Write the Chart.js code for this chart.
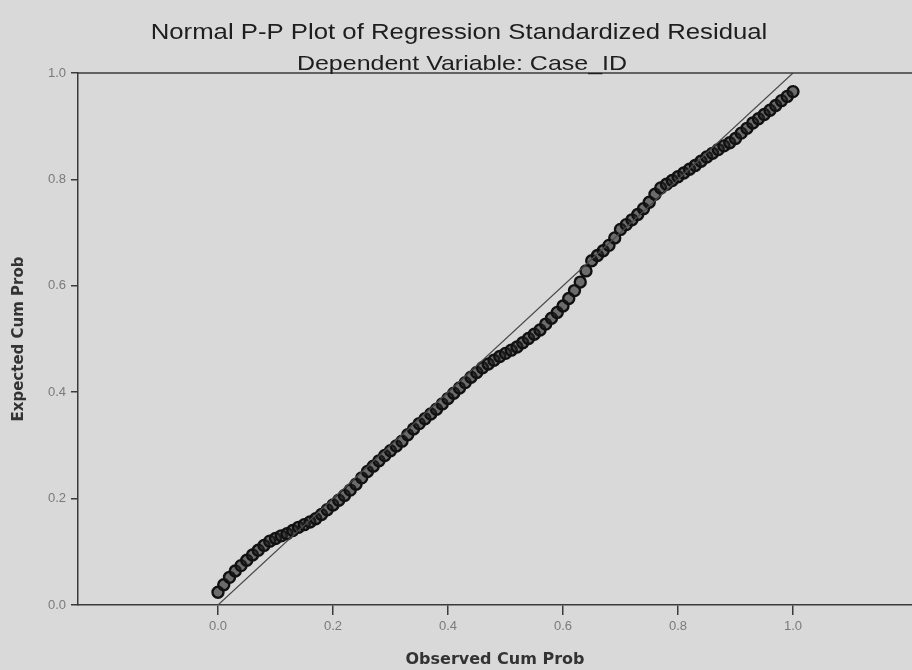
<!DOCTYPE html>
<html>
<head>
<meta charset="utf-8">
<script src="https://cdn.jsdelivr.net/npm/chart.js@4.4.1/dist/chart.umd.min.js"></script>
<style>
  html, body { margin: 0; padding: 0; background: #d9d9d9; }
  #pp { display: block; }
</style>
</head>
<body>
<canvas id="pp" width="912" height="670"></canvas>
<script>
// values (observed cum prob / expected cum prob)
var observed = [
    0.00, 0.01, 0.02, 0.03, 0.04, 0.05, 0.06, 0.07, 0.08, 0.09,
    0.10, 0.11, 0.12, 0.13, 0.14, 0.15, 0.16, 0.17, 0.18, 0.19,
    0.20, 0.21, 0.22, 0.23, 0.24, 0.25, 0.26, 0.27, 0.28, 0.29,
    0.30, 0.31, 0.32, 0.33, 0.34, 0.35, 0.36, 0.37, 0.38, 0.39,
    0.40, 0.41, 0.42, 0.43, 0.44, 0.45, 0.46, 0.47, 0.48, 0.49,
    0.50, 0.51, 0.52, 0.53, 0.54, 0.55, 0.56, 0.57, 0.58, 0.59,
    0.60, 0.61, 0.62, 0.63, 0.64, 0.65, 0.66, 0.67, 0.68, 0.69,
    0.70, 0.71, 0.72, 0.73, 0.74, 0.75, 0.76, 0.77, 0.78, 0.79,
    0.80, 0.81, 0.82, 0.83, 0.84, 0.85, 0.86, 0.87, 0.88, 0.89,
    0.90, 0.91, 0.92, 0.93, 0.94, 0.95, 0.96, 0.97, 0.98, 0.99,
    1.00
];
var expected = [
    0.024, 0.038, 0.052, 0.064, 0.074, 0.084, 0.094, 0.103, 0.112, 0.120,
    0.125, 0.130, 0.134, 0.140, 0.146, 0.151, 0.156, 0.162, 0.170, 0.179,
    0.188, 0.197, 0.206, 0.216, 0.227, 0.239, 0.251, 0.261, 0.271, 0.281,
    0.290, 0.299, 0.308, 0.320, 0.331, 0.341, 0.350, 0.359, 0.368, 0.378,
    0.388, 0.398, 0.408, 0.418, 0.428, 0.437, 0.446, 0.453, 0.460, 0.467,
    0.473, 0.479, 0.485, 0.493, 0.501, 0.509, 0.517, 0.528, 0.539, 0.550,
    0.562, 0.576, 0.591, 0.607, 0.628, 0.647, 0.657, 0.666, 0.676, 0.690,
    0.706, 0.715, 0.724, 0.734, 0.745, 0.757, 0.772, 0.784, 0.791, 0.798,
    0.805, 0.812, 0.819, 0.826, 0.834, 0.842, 0.849, 0.856, 0.863, 0.869,
    0.877, 0.887, 0.896, 0.906, 0.914, 0.922, 0.930, 0.939, 0.948, 0.956,
    0.965
];
var diagonal = [0, 1];
var xTicks = [0.0, 0.2, 0.4, 0.6, 0.8, 1.0];
var yTicks = [0.0, 0.2, 0.4, 0.6, 0.8, 1.0];

var titleText = 'Normal P-P Plot of Regression Standardized Residual';
var subtitleText = 'Dependent Variable: Case_ID';

var points = [];
for (var i = 0; i < observed.length; i++) {
    points.push({ x: observed[i], y: expected[i] });
}
var refLine = [];
for (var j = 0; j < diagonal.length; j++) {
    refLine.push({ x: diagonal[j], y: diagonal[j] });
}

// draws text stretched a bit horizontally, the scan shows a wide face
function wideText(ctx, text, x, y, size, stretch) {
    ctx.save();
    ctx.translate(x, y);
    ctx.scale(stretch, 1);
    ctx.font = size + 'px "Liberation Sans", Arial, sans-serif';
    ctx.fillText(text, 0, 0);
    ctx.restore();
}

// top frame line + the two title lines (subtitle sits right on the frame)
var framePlugin = {
    id: 'frameAndTitles',
    afterDraw: function (chart) {
        var ctx = chart.ctx;
        var area = chart.chartArea;
        ctx.save();
        ctx.strokeStyle = '#3a3a3a';
        ctx.lineWidth = 1.5;
        ctx.beginPath();
        ctx.moveTo(area.left, area.top);
        ctx.lineTo(area.right, area.top);
        ctx.stroke();

        ctx.fillStyle = '#1e1e1e';
        ctx.textAlign = 'center';
        ctx.textBaseline = 'middle';
        wideText(ctx, titleText, 459, 33, 22, 1.17);
        wideText(ctx, subtitleText, 462, 64, 21, 1.19);
        ctx.restore();
    }
};

var ctx = document.getElementById('pp').getContext('2d');
var myChart = new Chart(ctx, {
    type: 'scatter',
    data: {
        datasets: [
            {
                type: 'line',
                label: 'reference',
                data: refLine,
                borderColor: '#4a4a4a',
                borderWidth: 1.2,
                pointRadius: 0,
                fill: false
            },
            {
                label: 'residuals',
                data: points,
                pointRadius: 5.5,
                pointBorderWidth: 2.4,
                borderColor: '#111111',
                backgroundColor: 'rgba(35,35,35,0.6)'
            }
        ]
    },
    options: {
        responsive: false,
        animation: false,
        layout: { autoPadding: false, padding: { top: 73, left: 8, right: 0, bottom: 0 } },
        plugins: {
            legend: { display: false },
            tooltip: { enabled: false }
        },
        scales: {
            x: {
                type: 'linear',
                min: -0.2435,
                max: 1.207,
                afterBuildTicks: function (scale) {
                    scale.ticks = xTicks.map(function (v) { return { value: v }; });
                },
                afterFit: function (scale) {
                    scale.height = 65;
                    scale.paddingLeft = 0;
                    scale.paddingRight = 0;
                },
                ticks: {
                    color: '#7a7a7a',
                    font: { size: 13, family: '"Liberation Sans", Arial, sans-serif' },
                    padding: 4,
                    callback: function (v) { return v.toFixed(1); }
                },
                grid: {
                    drawOnChartArea: false,
                    drawTicks: true,
                    tickLength: 10,
                    color: '#3a3a3a',
                    lineWidth: 1.5
                },
                border: { color: '#3a3a3a', width: 1.5 },
                title: {
                    display: true,
                    text: 'Observed Cum Prob',
                    color: '#333',
                    font: { size: 16, weight: 'bold', family: '"DejaVu Sans", sans-serif' },
                    padding: { top: 0, bottom: 1 }
                }
            },
            y: {
                type: 'linear',
                min: 0,
                max: 1,
                afterBuildTicks: function (scale) {
                    scale.ticks = yTicks.map(function (v) { return { value: v }; });
                },
                afterFit: function (scale) {
                    scale.width = 70;
                    scale.paddingTop = 0;
                    scale.paddingBottom = 0;
                },
                ticks: {
                    color: '#7a7a7a',
                    font: { size: 13, family: '"Liberation Sans", Arial, sans-serif' },
                    padding: 5,
                    callback: function (v) { return v.toFixed(1); }
                },
                grid: {
                    drawOnChartArea: false,
                    drawTicks: true,
                    tickLength: 7,
                    color: '#3a3a3a',
                    lineWidth: 1.5
                },
                border: { color: '#3a3a3a', width: 1.5 },
                title: {
                    display: true,
                    text: 'Expected Cum Prob',
                    color: '#333',
                    font: { size: 15, weight: 'bold', family: '"DejaVu Sans", sans-serif' },
                    padding: { top: 2, bottom: 0 }
                }
            }
        }
    },
    plugins: [framePlugin]
});
</script>
</body>
</html>
